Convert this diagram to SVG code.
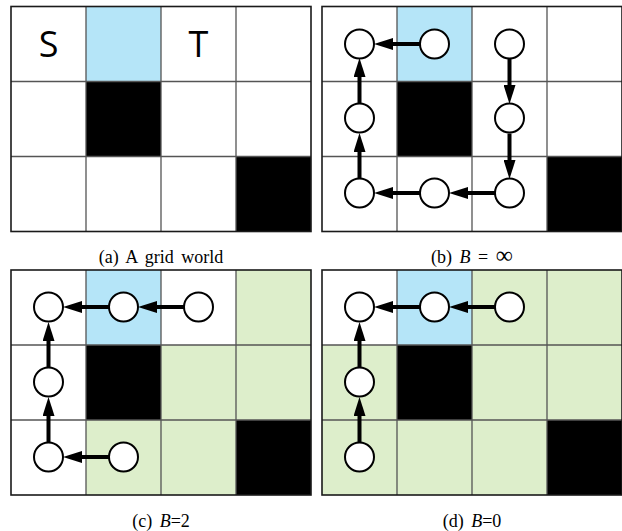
<svg xmlns="http://www.w3.org/2000/svg" width="622" height="531" viewBox="0 0 622 531">
<style>
.w{fill:#ffffff}.b{fill:#b5e5f8}.g{fill:#ddeecb}.k{fill:#000000}
.grid{fill:none;stroke:#555555;stroke-width:1.3}
.border{fill:none;stroke:#1a1a1a;stroke-width:1.6}
.node{fill:#ffffff;stroke:#000000;stroke-width:2}
.edge{stroke:#000000;stroke-width:4;fill:none;marker-end:url(#ah)}
.lbl{font-family:"Open Sans","DejaVu Sans",sans-serif;font-size:36px;fill:#000000;text-anchor:middle}
.cap{font-family:"Liberation Serif","Times New Roman",serif;font-size:18px;fill:#000000;text-anchor:middle;word-spacing:3px}
.it{font-style:italic}
.inf{font-size:24px}
</style>
<defs>
<marker id="ah" markerUnits="userSpaceOnUse" markerWidth="20" markerHeight="12" refX="4" refY="6" orient="auto">
<path d="M0,0 L19,6 L0,12 z" fill="#000000"/>
</marker>
</defs>

<!-- Panel (a) -->
<g id="panel-a">
<rect class="w" x="11" y="6.5" width="300" height="225"/>
<rect class="b" x="86" y="6.5" width="75" height="75"/>
<rect class="k" x="86" y="81.5" width="75" height="75"/>
<rect class="k" x="236" y="156.5" width="75" height="75"/>
<path class="grid" d="M86,6.5V231.5M161,6.5V231.5M236,6.5V231.5M11,81.5H311M11,156.5H311"/>
<rect class="border" x="11" y="6.5" width="300" height="225"/>
<text class="lbl" x="48.5" y="57">S</text>
<text class="lbl" x="198.5" y="57">T</text>
<text class="cap" x="161" y="262.5">(a) A grid world</text>
</g>

<!-- Panel (b) -->
<g id="panel-b">
<rect class="w" x="322" y="6.5" width="300" height="225"/>
<rect class="b" x="397" y="6.5" width="75" height="75"/>
<rect class="k" x="397" y="81.5" width="75" height="75"/>
<rect class="k" x="547" y="156.5" width="75" height="75"/>
<path class="grid" d="M397,6.5V231.5M472,6.5V231.5M547,6.5V231.5M322,81.5H622M322,156.5H622"/>
<rect class="border" x="322" y="6.5" width="300" height="225"/>
<text class="cap" x="472" y="262.5">(b) <tspan class="it">B</tspan> = <tspan class="inf">∞</tspan></text>
</g>

<!-- Panel (c) -->
<g id="panel-c">
<rect class="w" x="11" y="270" width="300" height="225"/>
<rect class="b" x="86" y="270" width="75" height="75"/>
<rect class="g" x="236" y="270" width="75" height="75"/>
<rect class="k" x="86" y="345" width="75" height="75"/>
<rect class="g" x="161" y="345" width="150" height="75"/>
<rect class="g" x="86" y="420" width="150" height="75"/>
<rect class="k" x="236" y="420" width="75" height="75"/>
<path class="grid" d="M86,270V495M161,270V495M236,270V495M11,345H311M11,420H311"/>
<rect class="border" x="11" y="270" width="300" height="225"/>
<text class="cap" x="161" y="526.5">(c) <tspan class="it">B</tspan>=2</text>
</g>

<!-- Panel (d) -->
<g id="panel-d">
<rect class="g" x="322" y="270" width="300" height="225"/>
<rect class="w" x="322" y="270" width="75" height="75"/>
<rect class="b" x="397" y="270" width="75" height="75"/>
<rect class="k" x="397" y="345" width="75" height="75"/>
<rect class="k" x="547" y="420" width="75" height="75"/>
<path class="grid" d="M397,270V495M472,270V495M547,270V495M322,345H622M322,420H622"/>
<rect class="border" x="322" y="270" width="300" height="225"/>
<text class="cap" x="472" y="526.5">(d) <tspan class="it">B</tspan>=0</text>
</g>

<!-- Connectors -->
<g id="connectors">
<line class="edge" x1="420" y1="44" x2="389" y2="44"/>
<line class="edge" x1="509.5" y1="58.5" x2="509.5" y2="89"/>
<line class="edge" x1="509.5" y1="133.5" x2="509.5" y2="164"/>
<line class="edge" x1="495" y1="193" x2="464" y2="193"/>
<line class="edge" x1="420" y1="193" x2="389" y2="193"/>
<line class="edge" x1="359.5" y1="178.5" x2="359.5" y2="148"/>
<line class="edge" x1="359.5" y1="103.5" x2="359.5" y2="73"/>
<line class="edge" x1="184" y1="307" x2="153" y2="307"/>
<line class="edge" x1="109" y1="307" x2="78" y2="307"/>
<line class="edge" x1="48.5" y1="367.5" x2="48.5" y2="337"/>
<line class="edge" x1="48.5" y1="442.5" x2="48.5" y2="412"/>
<line class="edge" x1="109" y1="457" x2="78" y2="457"/>
<line class="edge" x1="495" y1="307" x2="464" y2="307"/>
<line class="edge" x1="420" y1="307" x2="389" y2="307"/>
<line class="edge" x1="359.5" y1="367.5" x2="359.5" y2="337"/>
<line class="edge" x1="359.5" y1="442.5" x2="359.5" y2="412"/>
</g>

<!-- Nodes -->
<g id="b-n00"><circle class="node" cx="359.5" cy="44" r="14.5"/></g>
<g id="b-n10"><circle class="node" cx="434.5" cy="44" r="14.5"/></g>
<g id="b-n20"><circle class="node" cx="509.5" cy="44" r="14.5"/></g>
<g id="b-n01"><circle class="node" cx="359.5" cy="118" r="14.5"/></g>
<g id="b-n21"><circle class="node" cx="509.5" cy="118" r="14.5"/></g>
<g id="b-n02"><circle class="node" cx="359.5" cy="193" r="14.5"/></g>
<g id="b-n12"><circle class="node" cx="434.5" cy="193" r="14.5"/></g>
<g id="b-n22"><circle class="node" cx="509.5" cy="193" r="14.5"/></g>

<g id="c-n00"><circle class="node" cx="48.5" cy="307" r="14.5"/></g>
<g id="c-n10"><circle class="node" cx="123.5" cy="307" r="14.5"/></g>
<g id="c-n20"><circle class="node" cx="198.5" cy="307" r="14.5"/></g>
<g id="c-n01"><circle class="node" cx="48.5" cy="382" r="14.5"/></g>
<g id="c-n02"><circle class="node" cx="48.5" cy="457" r="14.5"/></g>
<g id="c-n12"><circle class="node" cx="123.5" cy="457" r="14.5"/></g>

<g id="d-n00"><circle class="node" cx="359.5" cy="307" r="14.5"/></g>
<g id="d-n10"><circle class="node" cx="434.5" cy="307" r="14.5"/></g>
<g id="d-n20"><circle class="node" cx="509.5" cy="307" r="14.5"/></g>
<g id="d-n01"><circle class="node" cx="359.5" cy="382" r="14.5"/></g>
<g id="d-n02"><circle class="node" cx="359.5" cy="457" r="14.5"/></g>
</svg>
